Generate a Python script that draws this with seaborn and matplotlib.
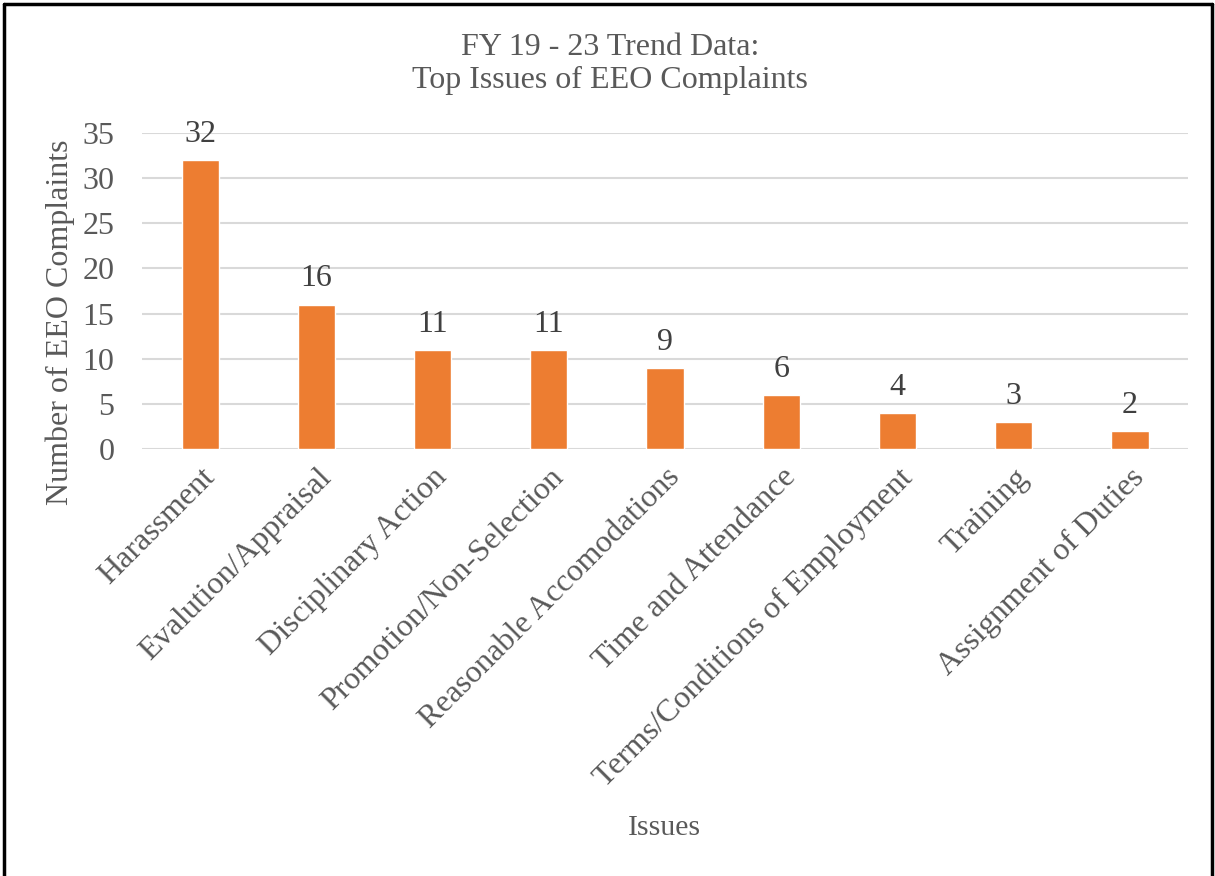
import pandas as pd
import matplotlib
matplotlib.use("Agg")
from matplotlib import pyplot as plt
from matplotlib.lines import Line2D
import seaborn as sns

# Chart data
issues = ["Harassment", "Evalution/Appraisal", "Disciplinary Action",
          "Promotion/Non-Selection", "Reasonable Accomodations",
          "Time and Attendance", "Terms/Conditions of Employment",
          "Training", "Assignment of Duties"]
complaints = [32, 16, 11, 11, 9, 6, 4, 3, 2]
y_ticks = [0, 5, 10, 15, 20, 25, 30, 35]

df = pd.DataFrame({"issue": issues, "count": complaints})

sns.set_style("white")
plt.rcParams["font.family"] = ["Liberation Serif", "DejaVu Serif"]

text_grey = "#595959"
grid_grey = "#D9D9D9"
bar_orange = "#ED7D31"

fig = plt.figure(figsize=(12.15, 8.76), dpi=100)
ax = fig.add_axes([0.1169, 0.4874, 0.8609, 0.3608])

sns.barplot(data=df, x="issue", y="count", color=bar_orange, width=0.32,
            saturation=1, ax=ax, zorder=3)

ax.set_ylim(0, 35)
ax.set_yticks(y_ticks)
ax.set_xlim(-0.5, len(issues) - 0.5)
ax.yaxis.grid(True, color=grid_grey, linewidth=1.5, zorder=0)
ax.set_axisbelow(True)
for s in ax.spines.values():
    s.set_visible(False)
ax.tick_params(axis="both", length=0, labelsize=23, labelcolor=text_grey)
ax.tick_params(axis="y", pad=20)
ax.tick_params(axis="x", pad=10)
plt.setp(ax.get_xticklabels(), rotation=45, ha="right", rotation_mode="anchor")

# value labels above bars
for c in ax.containers:
    ax.bar_label(c, labels=[str(v) for v in complaints], padding=8,
                 fontsize=23, color="#404040")

ax.set_xlabel("")
ax.set_ylabel("")
fig.text(0.0494, 0.632, "Number of EEO Complaints", rotation=90, ha="center",
         va="center", fontsize=23, color=text_grey)
fig.text(0.547, 0.055, "Issues", ha="center", va="center", fontsize=21.5,
         color=text_grey)
fig.text(0.502, 0.927, "FY 19 - 23 Trend Data:\nTop Issues of EEO Complaints",
         ha="center", va="center", fontsize=23, color=text_grey,
         linespacing=1.2)

# outer frame (top, left, right)
lw = 2.5
fig.add_artist(Line2D([4 / 1215, 1212 / 1215], [1 - 4 / 876, 1 - 4 / 876],
                      color="black", linewidth=lw))
fig.add_artist(Line2D([4 / 1215, 4 / 1215], [0, 1 - 4 / 876],
                      color="black", linewidth=lw))
fig.add_artist(Line2D([1212 / 1215, 1212 / 1215], [0, 1 - 4 / 876],
                      color="black", linewidth=lw))

fig.savefig("out.png", dpi=100)
